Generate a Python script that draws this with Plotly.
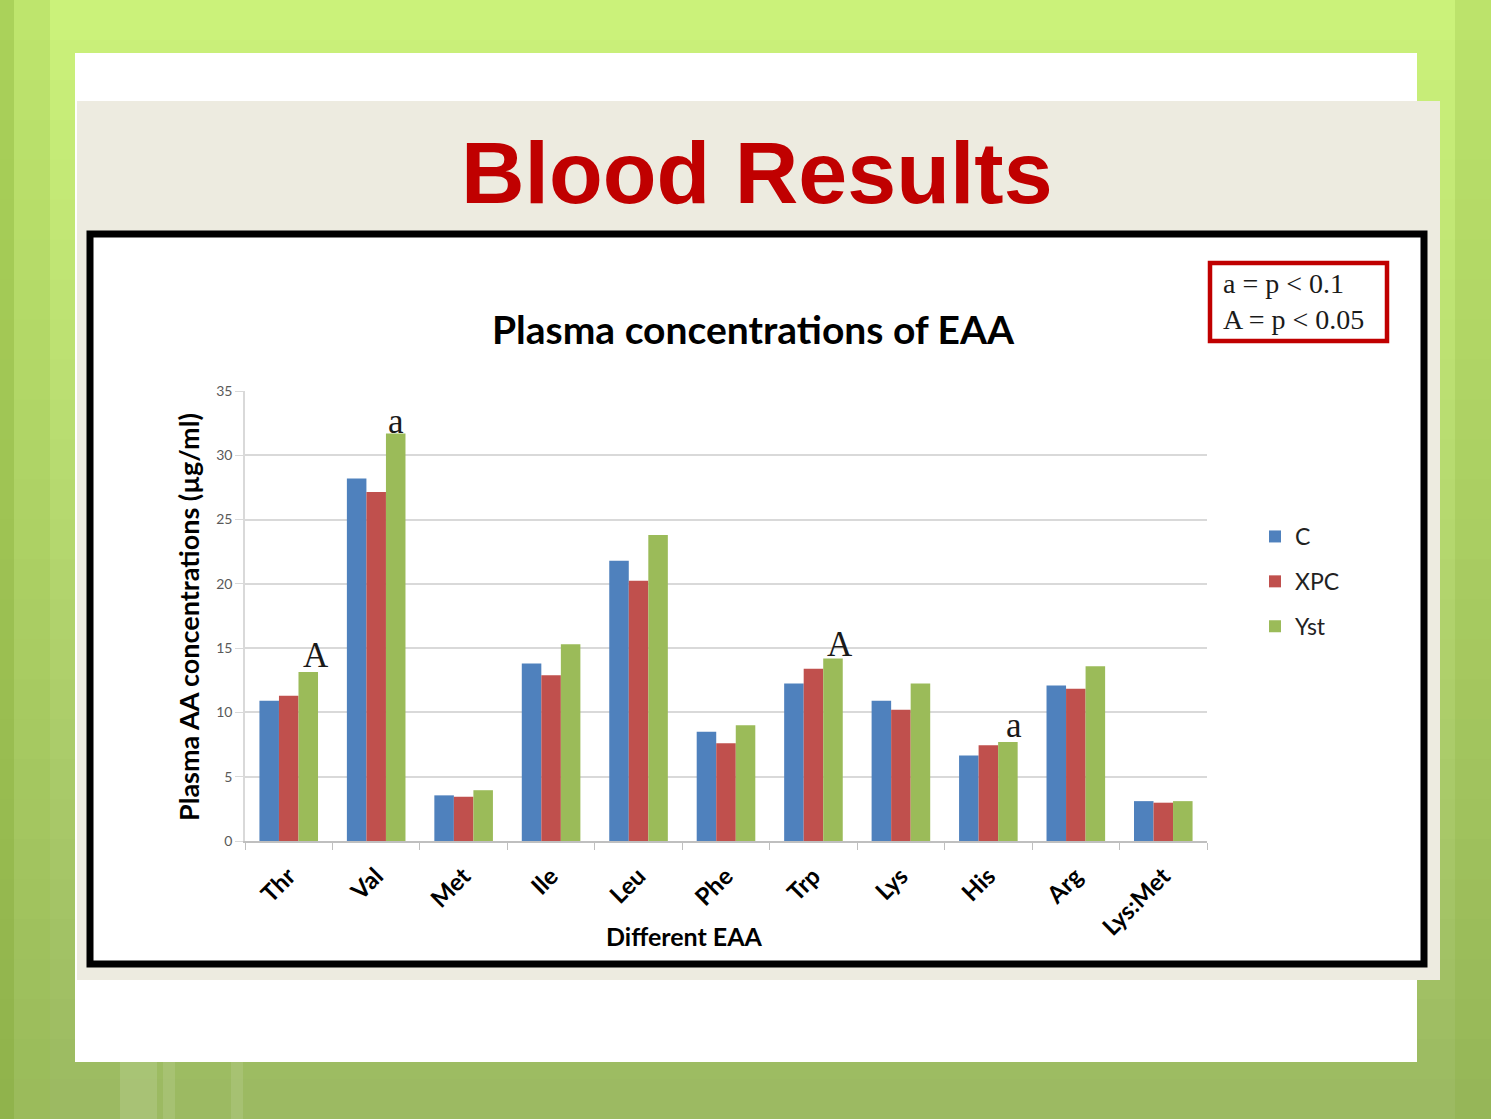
import plotly.graph_objects as go

# ---------------- data ----------------
categories = ["Thr", "Val", "Met", "Ile", "Leu", "Phe", "Trp", "Lys", "His", "Arg", "Lys:Met"]
c_values   = [10.9, 28.2, 3.55, 13.8, 21.8, 8.5, 12.25, 10.9, 6.65, 12.1, 3.1]
xpc_values = [11.3, 27.15, 3.45, 12.9, 20.25, 7.6, 13.4, 10.2, 7.45, 11.85, 2.98]
yst_values = [13.15, 31.7, 3.95, 15.3, 23.8, 9.0, 14.2, 12.25, 7.7, 13.6, 3.1]
series_names = ["C", "XPC", "Yst"]
sig_categories = ["Thr", "Val", "Trp", "His"]
sig_marks = ["A", "a", "A", "a"]
y_ticks = [0, 5, 10, 15, 20, 25, 30, 35]

# ---------------- layout helpers ----------------
W, H = 1491, 1119
L, R, T, B = 245, 1207, 391, 841


def px(x):
    return (x - L) / (R - L)


def py(y):
    return (B - y) / (B - T)


colors = ["#4F81BD", "#C0504D", "#9BBB59"]
bargap = 0.33

fig = go.Figure()
for name, vals, col in zip(series_names, [c_values, xpc_values, yst_values], colors):
    fig.add_trace(go.Bar(x=categories, y=vals, name=name, marker_color=col,
                         marker_line_width=0, legendgroup=name, hoverinfo="skip"))

shapes = []


def rect(x0, y0, x1, y1, fill, line_color=None, line_width=0, layer="below"):
    shapes.append(dict(type="rect", xref="paper", yref="paper",
                       x0=px(x0), x1=px(x1), y0=py(y1), y1=py(y0),
                       fillcolor=fill, layer=layer,
                       line=dict(color=line_color or fill, width=line_width)))


# green slide background (vertical gradient in bands)
top = (203, 242, 122)
bot = (156, 186, 98)
nb = 28
for i in range(nb):
    t = i / (nb - 1)
    c = tuple(int(top[k] + (bot[k] - top[k]) * t) for k in range(3))
    rect(0, H * i / nb, W, H * (i + 1) / nb + 1, "rgb(%d,%d,%d)" % c)
# darker left edge, lighter vertical streaks
rect(0, 0, 14, H, "rgba(130,170,50,0.45)")
rect(14, 0, 50, H, "rgba(150,190,70,0.25)")
rect(1455, 0, W, H, "rgba(130,170,50,0.2)")
rect(120, 1062, 157, H, "rgba(255,255,255,0.12)")
rect(163, 1062, 175, H, "rgba(255,255,255,0.1)")
rect(231, 1062, 243, H, "rgba(255,255,255,0.1)")

# white slide box
rect(75, 53, 1417, 1062, "#FFFFFF")
# beige panel
rect(77, 101, 1440, 980, "#EDEBE0")
# black-bordered chart box
rect(90, 234, 1424, 964, "#FFFFFF", "#000000", 7)
# red legend box
rect(1210, 263, 1387, 341, "#FFFFFF", "#C00000", 4.5)

annotations = []
# main title
annotations.append(dict(text="<b>Blood Results</b>", xref="paper", yref="paper",
                        x=px(757), y=py(172), xanchor="center", yanchor="middle",
                        showarrow=False,
                        font=dict(family="Liberation Sans", size=88, color="#C00000")))
# chart title
annotations.append(dict(text="<b>Plasma concentrations of EAA</b>", xref="paper", yref="paper",
                        x=px(753), y=py(329), xanchor="center", yanchor="middle",
                        showarrow=False,
                        font=dict(family="Lato", size=39, color="#000000")))
# axis titles
annotations.append(dict(text="<b>Plasma AA concentrations (µg/ml)</b>", xref="paper", yref="paper",
                        x=px(188), y=py(617), xanchor="center", yanchor="middle",
                        textangle=-90, showarrow=False,
                        font=dict(family="Lato", size=27, color="#000000")))
annotations.append(dict(text="<b>Different EAA</b>", xref="paper", yref="paper",
                        x=px(684), y=py(936), xanchor="center", yanchor="middle",
                        showarrow=False,
                        font=dict(family="Lato", size=25, color="#000000")))
# p-value key
annotations.append(dict(text="a = p < 0.1<br>A = p < 0.05", xref="paper", yref="paper",
                        x=px(1221), y=py(301), xanchor="left", yanchor="middle",
                        align="left", showarrow=False,
                        font=dict(family="Liberation Serif", size=28, color="#1A1A1A")))
# significance letters above Yst bars
bar_w = (1 - bargap) / 3
mark_xshift = [8, 0, 7, 6]
mark_yshift = [-5, -10, -8, -5]
for cat, mark, xs, ys in zip(sig_categories, sig_marks, mark_xshift, mark_yshift):
    i = categories.index(cat)
    annotations.append(dict(text=mark, x=i + bar_w, y=yst_values[i], xref="x", yref="y",
                            xanchor="center", yanchor="bottom", xshift=xs, yshift=ys,
                            showarrow=False,
                            font=dict(family="Liberation Serif", size=35, color="#1A1A1A")))

fig.update_layout(
    width=W, height=H,
    margin=dict(l=L, r=W - R, t=T, b=H - B, pad=0),
    paper_bgcolor="#B5DC64",
    plot_bgcolor="rgba(0,0,0,0)",
    barmode="group", bargap=bargap, bargroupgap=0,
    shapes=shapes, annotations=annotations,
    showlegend=True, hovermode=False,
    legend=dict(x=px(1255), y=py(515), xanchor="left", yanchor="top",
                bgcolor="rgba(0,0,0,0)", tracegroupgap=12,
                font=dict(family="Lato", size=23, color="#222222"),
                itemwidth=30),
    xaxis=dict(type="category", tickson="boundaries", ticks="outside", ticklen=7,
               tickcolor="#BFBFBF", showline=True, linecolor="#BFBFBF", linewidth=1.5,
               showgrid=False, tickangle=-45, ticklabelstandoff=10,
               tickfont=dict(family="Lato", size=24, color="#000000", weight="bold"),
               range=[-0.5, len(categories) - 0.5]),
    yaxis=dict(range=[0, 35], tickvals=y_ticks, showgrid=True, gridcolor="#D9D9D9",
               gridwidth=1.5, showline=True, linecolor="#D9D9D9", linewidth=1.5,
               ticks="outside", ticklen=8, tickcolor="#D9D9D9", zeroline=False,
               tickfont=dict(family="Lato", size=14, color="#595959")),
)

fig.write_html("out.html", config={"displayModeBar": False},
               post_script="document.body.style.margin='0';document.body.style.overflow='hidden';")
